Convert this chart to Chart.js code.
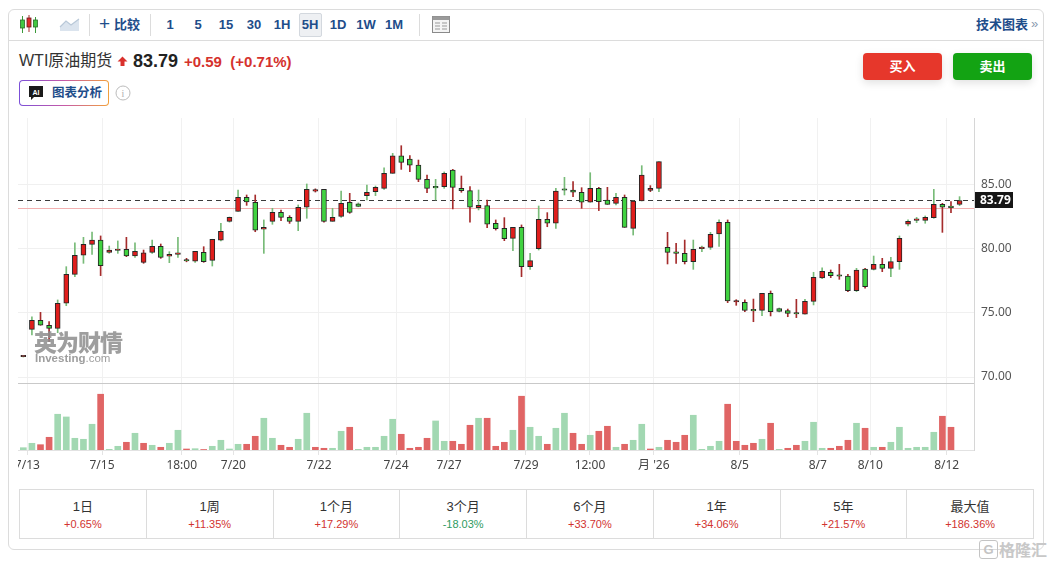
<!DOCTYPE html>
<html>
<head>
<meta charset="utf-8">
<script src="https://cdn.jsdelivr.net/npm/chart.js@4.4.1/dist/chart.umd.min.js"></script>
<style>
body{margin:0;background:#fff;width:1051px;height:564px;overflow:hidden;position:relative;font-family:"Liberation Sans","Noto Sans CJK SC",sans-serif;color:#333}
.abs{position:absolute}
.card{left:8px;top:9px;width:1034px;height:539px;border:1px solid #dcdcdc;border-radius:6px}
.tbline{left:9px;top:40px;width:1034px;height:1px;background:#dcdcdc}
.sep{top:14px;width:1px;height:22px;background:#dcdcdc}
.tf{top:15px;width:26px;height:20px;line-height:20px;text-align:center;font-size:13px;font-weight:bold;color:#1e4d8a}
.btn{top:53px;width:79px;height:27px;line-height:27px;text-align:center;color:#fff;font-size:13px;font-weight:bold;border-radius:4px;box-shadow:0 3px 8px rgba(0,0,0,.12)}
.tbl{left:19px;top:489px;width:1013px;height:48px;border:1px solid #dcdcdc;display:flex}
.cell{flex:1;border-left:1px solid #dcdcdc;text-align:center}
.cell:first-child{border-left:none}
.cell .k{font-size:13px;color:#333;margin-top:8px;line-height:17px}
.cell .v{font-size:11px;margin-top:2px;line-height:14px;color:#d23430}
.cell .v.dn{color:#2e9b5f}
</style>
</head>
<body>
<div class="abs card"></div>
<div class="abs tbline"></div>

<!-- toolbar -->
<svg class="abs" style="left:19px;top:14px" width="20" height="21" viewBox="0 0 20 21">
  <line x1="3.5" y1="2" x2="3.5" y2="19" stroke="#3a9a3a"/><rect x="1.5" y="6" width="4" height="8" fill="#42c742" stroke="#2a6a2a" stroke-width="0.8"/>
  <line x1="10" y1="1" x2="10" y2="18" stroke="#a83030"/><rect x="8" y="4" width="4" height="9" fill="#e02a2a" stroke="#6a1a1a" stroke-width="0.8"/>
  <line x1="16.5" y1="3" x2="16.5" y2="19" stroke="#3a9a3a"/><rect x="14.5" y="6" width="4" height="7" fill="#42c742" stroke="#2a6a2a" stroke-width="0.8"/>
</svg>
<svg class="abs" style="left:59px;top:16px" width="22" height="17" viewBox="0 0 22 17">
  <path d="M1 15 L1 11 L7 5 L12 9 L20 3 L20 15 Z" fill="#dbe4ee"/>
  <path d="M1 11 L7 5 L12 9 L20 3" fill="none" stroke="#b9c8d8" stroke-width="1.2"/>
</svg>
<div class="abs sep" style="left:89px"></div>
<div class="abs" style="left:99px;top:13px;font-size:19px;line-height:22px;color:#1e4d8a">+</div>
<div class="abs" style="left:114px;top:15px;font-size:13px;line-height:20px;font-weight:bold;color:#1e4d8a">比较</div>
<div class="abs sep" style="left:150px"></div>
<div class="abs" style="left:299px;top:13px;width:21px;height:22px;background:#eef0f3;border:1px solid #d3d8de;border-radius:2px"></div>
<div class="abs tf" style="left:157px">1</div>
<div class="abs tf" style="left:185px">5</div>
<div class="abs tf" style="left:213px">15</div>
<div class="abs tf" style="left:241px">30</div>
<div class="abs tf" style="left:269px">1H</div>
<div class="abs tf" style="left:297px">5H</div>
<div class="abs tf" style="left:325px">1D</div>
<div class="abs tf" style="left:353px">1W</div>
<div class="abs tf" style="left:381px">1M</div>
<div class="abs sep" style="left:419px"></div>
<svg class="abs" style="left:431px;top:15px" width="20" height="19" viewBox="0 0 20 19">
  <rect x="1.5" y="1.5" width="17" height="16" fill="#f4f4f4" stroke="#8a8a8a"/>
  <rect x="1.5" y="1.5" width="17" height="3.5" fill="#9a9a9a"/>
  <line x1="4" y1="8" x2="9" y2="8" stroke="#999"/><line x1="4" y1="11" x2="9" y2="11" stroke="#999"/><line x1="4" y1="14" x2="9" y2="14" stroke="#999"/>
  <line x1="11" y1="8" x2="16" y2="8" stroke="#999"/><line x1="11" y1="11" x2="16" y2="11" stroke="#999"/><line x1="11" y1="14" x2="16" y2="14" stroke="#999"/>
</svg>
<div class="abs" style="left:976px;top:15px;font-size:13px;line-height:20px;font-weight:bold;color:#1e4d8a">技术图表</div>
<div class="abs" style="left:1031px;top:14px;font-size:13px;line-height:20px;color:#8a9ab0">»</div>

<!-- title row -->
<div class="abs" style="left:19px;top:51px;font-size:16px;line-height:20px;color:#333;white-space:nowrap">WTI原油期货</div>
<svg class="abs" style="left:117px;top:56px" width="11" height="11" viewBox="0 0 11 11"><path d="M5.5 0.5 L10.5 5.5 L7.5 5.5 L7.5 10 L3.5 10 L3.5 5.5 L0.5 5.5 Z" fill="#d9302c"/></svg>
<div class="abs" style="left:133px;top:50px;font-size:18px;line-height:22px;font-weight:bold;color:#222">83.79</div>
<div class="abs" style="left:184px;top:52px;font-size:15px;line-height:20px;font-weight:bold;color:#d5322d;white-space:nowrap">+0.59&nbsp; (+0.71%)</div>

<div class="abs" style="left:19px;top:80px;width:90px;height:26px;border-radius:4px;background:linear-gradient(90deg,#7a4fd8,#c65aa8 50%,#f2a13c)"></div>
<div class="abs" style="left:20px;top:81px;width:88px;height:24px;border-radius:3px;background:#fff"></div>
<svg class="abs" style="left:28px;top:85px" width="16" height="16" viewBox="0 0 16 16"><path d="M1 1 H15 V12 H6 L3 15 V12 H1 Z" fill="#1a1a1a"/><text x="8" y="9.5" font-size="7" font-weight="bold" fill="#fff" text-anchor="middle" font-family="Liberation Sans">AI</text></svg>
<div class="abs" style="left:52px;top:83px;font-size:12.5px;line-height:20px;font-weight:bold;color:#1e4d8a">图表分析</div>
<svg class="abs" style="left:115px;top:85px" width="16" height="16" viewBox="0 0 16 16"><circle cx="8" cy="8" r="7" fill="none" stroke="#bcbcbc"/><text x="8" y="12" font-size="10" fill="#b0b0b0" text-anchor="middle" font-family="Liberation Serif">i</text></svg>

<div class="abs btn" style="left:863px;background:#e6372b">买入</div>
<div class="abs btn" style="left:953px;background:#13a313">卖出</div>

<!-- chart -->
<canvas id="c" class="abs" style="left:18px;top:112px" width="1025" height="368"></canvas>
<div class="abs" style="left:18px;top:383px;width:956px;height:1px;background:#c9c9c9"></div>
<div class="abs" style="left:34px;top:328px;font-family:'Noto Sans CJK SC';font-weight:900;font-size:23px;line-height:26px;color:#8d8d8d;opacity:.85;letter-spacing:-1px">英为财情</div>
<div class="abs" style="left:35px;top:352px;font-size:11.5px;line-height:13px;font-weight:bold;color:#8d8d8d;opacity:.85">Investing<span style="font-weight:normal">.com</span></div>

<!-- performance table -->
<div class="abs tbl">
  <div class="cell"><div class="k">1日</div><div class="v">+0.65%</div></div>
  <div class="cell"><div class="k">1周</div><div class="v">+11.35%</div></div>
  <div class="cell"><div class="k">1个月</div><div class="v">+17.29%</div></div>
  <div class="cell"><div class="k">3个月</div><div class="v dn">-18.03%</div></div>
  <div class="cell"><div class="k">6个月</div><div class="v">+33.70%</div></div>
  <div class="cell"><div class="k">1年</div><div class="v">+34.06%</div></div>
  <div class="cell"><div class="k">5年</div><div class="v">+21.57%</div></div>
  <div class="cell"><div class="k">最大值</div><div class="v">+186.36%</div></div>
</div>
<div class="abs" style="left:979px;top:540px;width:17px;height:17px;border:1.5px solid #c4c4c4;border-radius:3px;font-size:13px;line-height:17px;text-align:center;color:#c4c4c4;font-weight:bold">G</div>
<div class="abs" style="left:999px;top:539px;font-family:'Noto Sans CJK SC';font-size:16px;line-height:20px;color:#c8c8c8;font-weight:bold">格隆汇</div>

<script>
// WTI 5H candles, 7/13 .. 8/12
const opens = [71.58,73.72,74.43,74.04,73.80,75.76,78.02,79.51,80.36,80.70,
  79.74,79.88,79.97,79.45,78.96,79.74,80.21,79.43,79.58,79.08,
  79.04,79.74,79.11,80.68,82.16,82.94,84.04,83.65,81.54,82.16,
  82.86,82.47,82.16,83.26,84.51,84.66,82.16,82.55,83.65,83.52,
  84.17,84.48,84.74,85.91,87.27,87.03,86.56,85.44,84.80,84.87,
  86.17,84.74,84.56,83.23,83.39,82.01,81.61,80.83,81.69,78.62,
  80.03,82.32,82.01,84.63,84.61,84.43,83.65,84.74,83.83,83.57,
  84.04,81.61,83.75,84.58,84.74,80.13,79.70,79.66,79.01,80.03,
  80.13,81.17,82.08,75.86,75.83,75.21,75.21,76.54,75.34,75.18,
  74.97,74.90,75.91,77.74,78.18,77.92,77.89,76.74,78.44,78.41,
  78.80,78.49,79.01,81.93,82.24,82.24,82.45,83.49,83.28,83.49];
const highs = [71.62,74.71,75.05,74.32,76.02,78.62,80.49,80.91,81.33,81.02,
  80.23,80.63,80.91,80.49,79.92,80.70,80.39,79.79,80.91,79.27,
  79.82,80.18,80.76,82.00,82.50,84.61,84.22,84.22,82.27,83.18,
  83.05,82.60,83.44,85.08,84.70,84.66,83.18,84.53,84.35,83.60,
  85.00,84.92,86.35,87.47,88.07,87.29,86.95,85.78,85.44,86.02,
  86.22,85.70,84.87,84.61,83.83,82.27,82.45,81.69,81.88,79.66,
  83.36,82.84,84.74,85.60,85.26,84.79,85.96,84.82,84.82,84.35,
  84.22,83.75,86.51,84.95,86.82,81.30,80.44,80.70,80.70,80.23,
  81.30,82.27,82.27,76.04,76.02,76.09,76.54,76.72,75.39,75.31,
  76.07,76.07,78.18,78.52,78.36,78.80,78.02,78.49,78.49,79.45,
  79.27,79.35,81.02,82.27,82.47,82.58,84.66,83.57,83.70,84.09];
const lows = [71.56,73.28,74.04,72.76,73.46,75.57,77.84,78.88,79.58,77.92,
  79.66,79.66,79.40,79.35,78.88,79.66,79.27,78.93,79.35,79.00,
  78.96,78.96,78.67,80.63,82.10,82.94,83.41,81.35,79.66,81.93,
  82.21,82.00,81.43,82.40,84.45,82.09,82.16,82.47,82.79,83.30,
  83.83,84.17,84.66,85.91,86.22,86.04,85.26,84.40,83.83,84.74,
  83.13,84.43,82.09,83.05,81.67,81.48,80.65,79.87,77.84,78.41,
  79.92,81.74,81.61,84.22,84.09,83.18,83.65,83.00,83.49,83.44,
  81.69,81.09,83.75,84.48,84.48,78.83,78.88,78.83,78.41,79.79,
  79.97,80.21,75.81,75.60,75.10,74.32,74.79,74.77,75.08,74.71,
  74.64,74.90,75.63,77.69,77.76,77.63,76.67,76.67,76.93,78.36,
  78.23,77.84,78.41,81.80,82.06,82.01,82.40,81.30,82.84,83.39];
const closes = [71.60,74.43,74.04,73.80,75.76,78.02,79.51,80.36,80.70,78.70,
  79.92,79.92,79.45,79.82,79.71,80.21,79.35,79.58,79.59,79.06,
  79.82,79.01,80.76,81.38,82.47,84.04,83.67,81.48,81.69,82.86,
  82.47,82.16,83.26,84.66,84.64,82.16,82.47,83.57,82.86,83.33,
  84.43,84.82,85.91,87.27,86.77,86.54,85.44,84.74,84.77,85.91,
  84.82,84.56,83.26,83.41,81.93,81.59,80.81,81.69,78.62,79.09,
  82.32,82.01,84.53,84.59,84.43,83.65,84.74,83.70,83.49,84.04,
  81.69,83.75,85.78,84.74,86.82,79.74,79.66,79.01,79.97,80.08,
  81.14,82.08,75.94,75.91,75.21,75.16,76.54,75.10,75.13,74.97,
  74.92,75.91,77.79,78.26,77.92,77.87,76.74,78.36,77.06,78.80,
  78.49,79.01,80.83,82.16,82.27,82.47,83.49,83.26,83.23,83.79];
// volume, thousand contracts (last bar still forming: none shown)
const volumeK = [2.3,6.7,5.3,12.7,35.7,33.0,11.7,10.7,25.7,55.7,
  0.7,3.7,7.7,16.7,6.7,4.7,2.7,6.7,19.7,1.0,
  1.3,0.5,3.7,9.7,1.0,5.7,5.7,13.7,31.7,11.7,
  4.7,2.7,10.7,36.7,2.7,1.7,1.7,18.7,22.7,0.7,
  2.7,2.7,13.7,30.7,15.7,1.7,2.7,11.7,29.0,8.7,
  8.7,5.7,24.7,31.7,31.7,3.7,7.7,19.7,53.7,22.7,
  13.7,5.7,21.7,36.7,16.7,5.7,14.7,18.7,23.7,2.7,
  5.7,9.7,25.7,1.0,2.7,9.7,7.7,14.7,34.7,0.7,
  3.7,8.7,45.7,8.7,4.7,6.7,10.7,26.7,0.7,1.7,
  4.7,8.7,27.7,1.7,1.7,3.7,9.7,26.7,21.7,2.7,
  2.7,7.7,22.7,1.7,2.7,2.7,17.7,33.7,22.7,null];

const xTickPos = [0.47,9.16,18.44,24.45,34.42,43.39,49.56,58.52,65.97,73.4,83.4,92.5,98.6,107.5];
const xTickLabels = ['7/13','7/15','18:00','7/20','7/22','7/24','7/27','7/29','12:00',"月 '26",'8/5','8/7','8/10','8/12'];
const priceTicks = [70, 75, 80, 85];
const lastPrice = 83.79;
const prevClose = 83.20;

const BODY_UP = '#e01e1c', BODY_DN = '#40d240', BODY_EDGE = '#262626';
const WICK_UP = '#78bb78', WICK_DN = '#a52c2c';
const VOL_UP = '#a2d8b2', VOL_DN = '#e06565';
const FONT = '"Noto Sans","Noto Sans CJK SC",sans-serif';

function risesFromPrev(i){
  const ref = i > 0 ? closes[i - 1] : opens[i];
  return closes[i] >= ref;
}

const idx = closes.map((c, i) => i);
const bodyData = idx.map(i => ({x: i, y: [opens[i], closes[i]]}));
const wickData = idx.map(i => ({x: i, y: [lows[i], highs[i]]}));
const volData = idx.map(i => ({x: i, y: volumeK[i]}));

const refLines = {
  id: 'refLines',
  beforeDatasetsDraw(chart){
    const {ctx, chartArea: a, scales: {y}} = chart;
    ctx.save();
    ctx.lineWidth = 1;
    let py = Math.round(y.getPixelForValue(prevClose)) + 0.5;
    ctx.strokeStyle = '#f2b0b0';
    ctx.beginPath(); ctx.moveTo(a.left, py); ctx.lineTo(a.right, py); ctx.stroke();
    py = Math.round(y.getPixelForValue(lastPrice)) + 0.5;
    ctx.strokeStyle = '#3a3a3a';
    ctx.setLineDash([5, 4]);
    ctx.beginPath(); ctx.moveTo(a.left, py); ctx.lineTo(a.right, py); ctx.stroke();
    ctx.restore();
  },
  afterDraw(chart){
    const {ctx, chartArea: a, scales: {y}} = chart;
    const py = Math.round(y.getPixelForValue(lastPrice));
    ctx.save();
    ctx.fillStyle = '#161616';
    ctx.fillRect(a.right + 1, py - 8, 38, 16);
    ctx.fillStyle = '#fff';
    ctx.font = 'bold 12px ' + FONT;
    ctx.textBaseline = 'middle';
    ctx.fillText(lastPrice.toFixed(2), a.right + 6, py + 0.5);
    ctx.restore();
  }
};

new Chart(document.getElementById('c'), {
  type: 'bar',
  data: {
    datasets: [{
      label: 'body',
      data: bodyData,
      backgroundColor: idx.map(i => closes[i] >= opens[i] ? BODY_UP : BODY_DN),
      borderColor: BODY_EDGE,
      borderWidth: 1,
      borderSkipped: false,
      barThickness: 5,
      minBarLength: 1.5,
      grouped: false,
      order: 0
    }, {
      label: 'wick',
      data: wickData,
      backgroundColor: idx.map(i => risesFromPrev(i) ? WICK_UP : WICK_DN),
      barThickness: 1,
      grouped: false,
      order: 1
    }, {
      label: 'volume',
      data: volData,
      yAxisID: 'yv',
      backgroundColor: idx.map(i => risesFromPrev(i) ? VOL_UP : VOL_DN),
      barThickness: 6,
      grouped: false,
      order: 2
    }]
  },
  options: {
    responsive: false,
    animation: false,
    layout: {padding: {top: 6, left: 0, right: 0, bottom: 0}},
    plugins: {legend: {display: false}, tooltip: {enabled: false}},
    scales: {
      x: {
        type: 'linear',
        min: -0.62, max: 110.68,
        offset: false,
        afterBuildTicks: s => { s.ticks = xTickPos.map(v => ({value: v})); },
        afterFit: s => { s.height = 30; s.paddingLeft = 0; s.paddingRight = 0; },
        ticks: {
          autoSkip: false, maxRotation: 0, padding: 3, color: '#444',
          font: {size: 12, family: FONT},
          callback: (v, i) => xTickLabels[i]
        },
        grid: {offset: false, color: '#f1f1f1', tickLength: 5, tickColor: '#e4e4e4'},
        border: {color: '#e2e2e2'}
      },
      y: {
        position: 'right',
        min: 64.297, max: 90.234,
        afterBuildTicks: s => { s.ticks = priceTicks.map(v => ({value: v})); },
        afterFit: s => { s.width = 69; s.paddingTop = 0; s.paddingBottom = 0; },
        ticks: {
          padding: 7, color: '#555',
          font: {size: 12, family: FONT},
          callback: v => Number(v).toFixed(2)
        },
        grid: {color: '#f0f0f0', drawTicks: false},
        border: {color: '#d6d6d6'}
      },
      yv: {
        display: false,
        min: 0,
        max: Math.max(...volumeK.filter(v => v !== null)) / 0.168
      }
    }
  },
  plugins: [refLines]
});
</script>
</body>
</html>
